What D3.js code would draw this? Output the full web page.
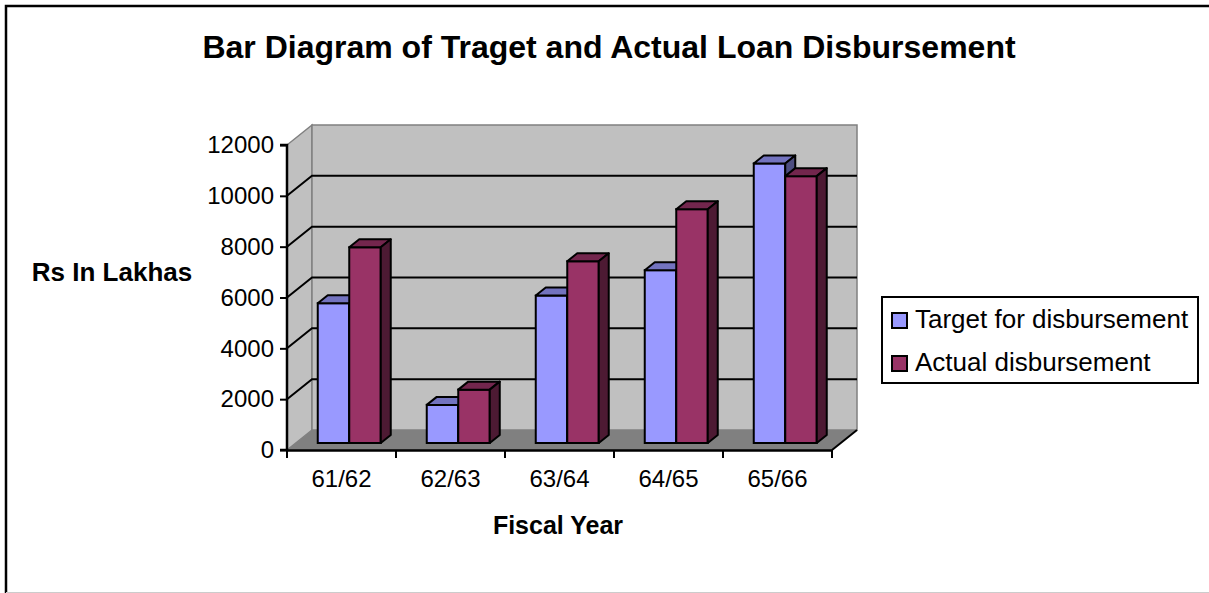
<!DOCTYPE html>
<html lang="en">
<head>
  <meta charset="UTF-8">
  <title>Bar Diagram of Traget and Actual Loan Disbursement</title>
  <style>
  body { margin: 0; background: #fff; }
  #paper { width: 1209px; height: 593px; }
  text { font-family: "Liberation Sans", Arial, sans-serif; fill: #000; }
  </style>
</head>
<body>
  <div id="paper"></div>
  <script src="https://cdn.jsdelivr.net/npm/d3@7"></script>
  <script>
    // chart data
    const years = ['61/62', '62/63', '63/64', '64/65', '65/66'];
    const series = ['Target for disbursement', 'Actual disbursement'];
    const target = [5500, 1500, 5800, 6800, 11000];
    const actual = [7700, 2100, 7150, 9200, 10500];
    const yTicks = [0, 2000, 4000, 6000, 8000, 10000, 12000];

    const front = ['#9999ff', '#993366'];
    const topC = ['#7373bf', '#73264d'];
    const sideC = ['#4d4d80', '#4d1a33'];

    const W = 1209, H = 593;
    const depth = {dx: 25, dy: -20}; // wall depth
    const svg = d3.select('#paper').append('svg')
      .attr('width', W).attr('height', H);

    // outer frame
    svg.append('path').attr('d', `M6,${H} V6 H${W}`)
      .attr('fill', 'none').attr('stroke', '#000').attr('stroke-width', 2.5);
    svg.append('line').attr('x1', 6).attr('x2', W).attr('y1', H - 0.5).attr('y2', H - 0.5)
      .attr('stroke', '#ccc');

    const x = d3.scaleBand().domain(years).range([287, 832]);
    const y = d3.scaleLinear().domain([0, 12000]).range([450, 145]);
    const xs = d3.scaleBand().domain(series).range([22, 85]);

    const g = svg.append('g');

    // left wall & back wall
    const x0 = x.range()[0], x1 = x.range()[1];
    const yb = y(0), yt = y(12000);
    g.append('path')
      .attr('d', `M${x0},${yb} V${yt} L${x0 + depth.dx},${yt + depth.dy} V${yb + depth.dy} Z`)
      .attr('fill', '#c0c0c0').attr('stroke', '#808080').attr('stroke-width', 1.5);
    g.append('rect')
      .attr('x', x0 + depth.dx).attr('y', yt + depth.dy)
      .attr('width', x1 - x0).attr('height', yb - yt)
      .attr('fill', '#c0c0c0').attr('stroke', '#808080').attr('stroke-width', 1.5);
    // floor
    g.append('path')
      .attr('d', `M${x0},${yb} H${x1} L${x1 + depth.dx},${yb + depth.dy} H${x0 + depth.dx} Z`)
      .attr('fill', '#808080');
    g.append('line')
      .attr('x1', x1).attr('y1', yb).attr('x2', x1 + depth.dx).attr('y2', yb + depth.dy)
      .attr('stroke', '#000').attr('stroke-width', 2);

    // gridlines
    g.selectAll('.grid').data(yTicks.filter(v => v > 0 && v < 12000)).enter()
      .append('path')
      .attr('d', v => `M${x0},${y(v)} L${x0 + depth.dx},${y(v) + depth.dy} H${x1 + depth.dx}`)
      .attr('fill', 'none').attr('stroke', '#000').attr('stroke-width', 2);

    // bars (front face sits a little behind the axis plane)
    const off = {dx: 8.75, dy: -7};
    const bd = {dx: 10, dy: -8};
    const rows = [];
    years.forEach((yr, i) => {
      [target[i], actual[i]].forEach((v, s) => rows.push({yr, v, s}));
    });
    const bars = g.selectAll('.bar').data(rows).enter().append('g');
    const bw = xs.bandwidth();
    bars.each(function (d) {
      const el = d3.select(this);
      const bx = x(d.yr) + xs(series[d.s]) + off.dx;
      const top = y(d.v) + off.dy, base = y(0) + off.dy;
      el.append('rect').attr('x', bx).attr('y', top).attr('width', bw).attr('height', base - top)
        .attr('fill', front[d.s]).attr('stroke', '#000').attr('stroke-width', 2);
      el.append('path')
        .attr('d', `M${bx},${top} L${bx + bd.dx},${top + bd.dy} H${bx + bw + bd.dx} L${bx + bw},${top} Z`)
        .attr('fill', topC[d.s]).attr('stroke', '#000').attr('stroke-width', 2).attr('stroke-linejoin', 'round');
      el.append('path')
        .attr('d', `M${bx + bw},${top} L${bx + bw + bd.dx},${top + bd.dy} V${base + bd.dy} L${bx + bw},${base} Z`)
        .attr('fill', sideC[d.s]).attr('stroke', '#000').attr('stroke-width', 2).attr('stroke-linejoin', 'round');
    });

    // axes
    const yAxis = d3.axisLeft(y).tickValues(yTicks).tickSize(7).tickPadding(6).tickFormat(d3.format('d'));
    const ya = svg.append('g').attr('transform', `translate(${x0},0)`).call(yAxis);
    ya.select('.domain').attr('stroke-width', 2.5).attr('d', `M-7,${yt}H0V${yb}H-7`);
    ya.selectAll('line').attr('stroke-width', 2);
    ya.selectAll('text').style('font-size', '24px').attr('fill', '#000');

    const xAxis = d3.axisBottom(x).tickSize(0).tickPadding(20);
    const xa = svg.append('g').attr('transform', `translate(0,${yb})`).call(xAxis);
    xa.select('.domain').attr('stroke-width', 2.5);
    xa.selectAll('.tick text').style('font-size', '24px').attr('fill', '#000');
    xa.selectAll('.sep').data(x.domain().concat(['end'])).enter().append('line')
      .attr('x1', (d, i) => x0 + i * x.step()).attr('x2', (d, i) => x0 + i * x.step())
      .attr('y1', 0).attr('y2', 8).attr('stroke', '#000').attr('stroke-width', 2);

    // titles
    svg.append('text').attr('x', 609).attr('y', 58).attr('text-anchor', 'middle')
      .style('font-size', '32px').style('font-weight', 'bold')
      .text('Bar Diagram of Traget and Actual Loan Disbursement');
    svg.append('text').attr('x', 112).attr('y', 281).attr('text-anchor', 'middle')
      .style('font-size', '26px').style('font-weight', 'bold').text('Rs In Lakhas');
    svg.append('text').attr('x', 558).attr('y', 534).attr('text-anchor', 'middle')
      .style('font-size', '25px').style('font-weight', 'bold').text('Fiscal Year');

    // legend
    const lg = svg.append('g').attr('transform', 'translate(882,297)');
    lg.append('rect').attr('width', 316).attr('height', 86)
      .attr('fill', '#fff').attr('stroke', '#000').attr('stroke-width', 2);
    const li = lg.selectAll('.item').data(series).enter().append('g')
      .attr('transform', (d, i) => `translate(10,${16 + i * 43})`);
    li.append('rect').attr('width', 15).attr('height', 15)
      .attr('fill', (d, i) => front[i]).attr('stroke', '#000').attr('stroke-width', 2);
    li.append('text').attr('x', 23).attr('y', 15).style('font-size', '26px').text(d => d);
  </script>
</body>
</html>
